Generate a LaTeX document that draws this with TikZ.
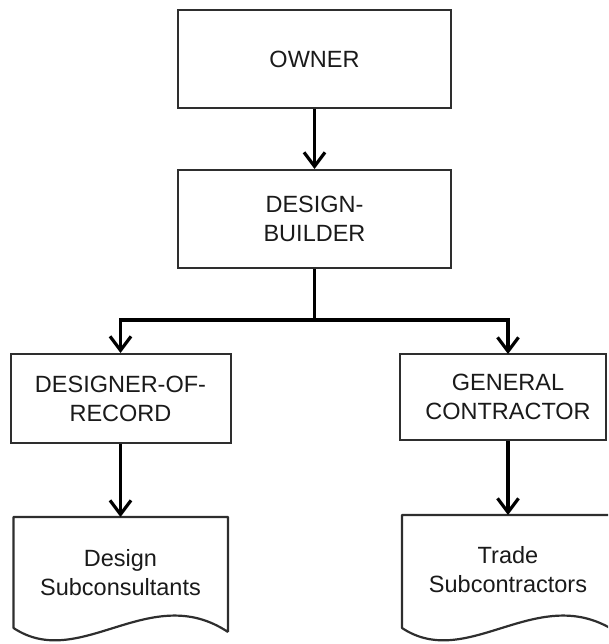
\documentclass[tikz,border=0pt]{standalone}
\usepackage{fontspec}
\setmainfont{Liberation Sans}
\usetikzlibrary{arrows.meta}
\definecolor{boxline}{HTML}{2E2E2E}
\definecolor{txt}{HTML}{1A1A1A}
\begin{document}
\begin{tikzpicture}[x=1pt,y=-1pt,
  boxnode/.style={draw=boxline, line width=2pt, rectangle, align=center, text=txt,
    font=\fontsize{23.5}{29}\selectfont, inner sep=0pt},
  doctext/.style={align=center, text=txt, font=\fontsize{23.5}{29}\selectfont, inner sep=0pt},
  docline/.style={draw=boxline, line width=2.2pt, line join=round},
  conn/.style={draw=black, line width=3.5pt},
  arr/.style={draw=black, line width=3.5pt, -{Straight Barb[length=14pt,width=21pt,line width=3.2pt]}}]
\useasboundingbox (0,0) rectangle (608,644);
\clip (0,0) rectangle (608,644);
% boxes
\node[boxnode, minimum width=273pt, minimum height=98pt] (owner) at (314.5,59) {OWNER};
\node[boxnode, minimum width=273pt, minimum height=98pt] (db) at (314.5,219) {DESIGN-\\BUILDER};
\node[boxnode, minimum width=220pt, minimum height=89pt] (dor) at (120.5,398.5) {DESIGNER-OF-\\RECORD};
\node[boxnode, minimum width=206pt, minimum height=86pt] (gc) at (503,397) {\hspace*{10pt}GENERAL\\\hspace*{10pt}CONTRACTOR};
% documents
\draw[docline] (228,632) -- (228,517) -- (13.5,517) -- (13.5,628)
  .. controls (80,672) and (150,580) .. (228,632);
\draw[docline] (616.5,632) -- (616.5,515) -- (402,515) -- (402,628)
  .. controls (468.5,672) and (538.5,580) .. (616.5,632);
\node[doctext] (dsub) at (120.5,572.5) {Design\\Subconsultants};
\node[doctext] (tsub) at (508,570) {Trade\\Subcontractors};
\coordinate (dsubtop) at (120.5,517);
\coordinate (tsubtop) at (508,515);
\coordinate (j) at (314.5,320);
\coordinate (gcin) at (508,354);
% connectors
\draw[arr] (owner.south) -- (db.north);
\draw[conn] (db.south) -- (j);
\draw[arr] (j) -| (dor.north);
\draw[arr] (j) -| (gcin);
\draw[arr] (dor.south) -- (dsubtop);
\draw[arr] (gc.south -| tsubtop) -- (tsubtop);
\end{tikzpicture}
\end{document}
